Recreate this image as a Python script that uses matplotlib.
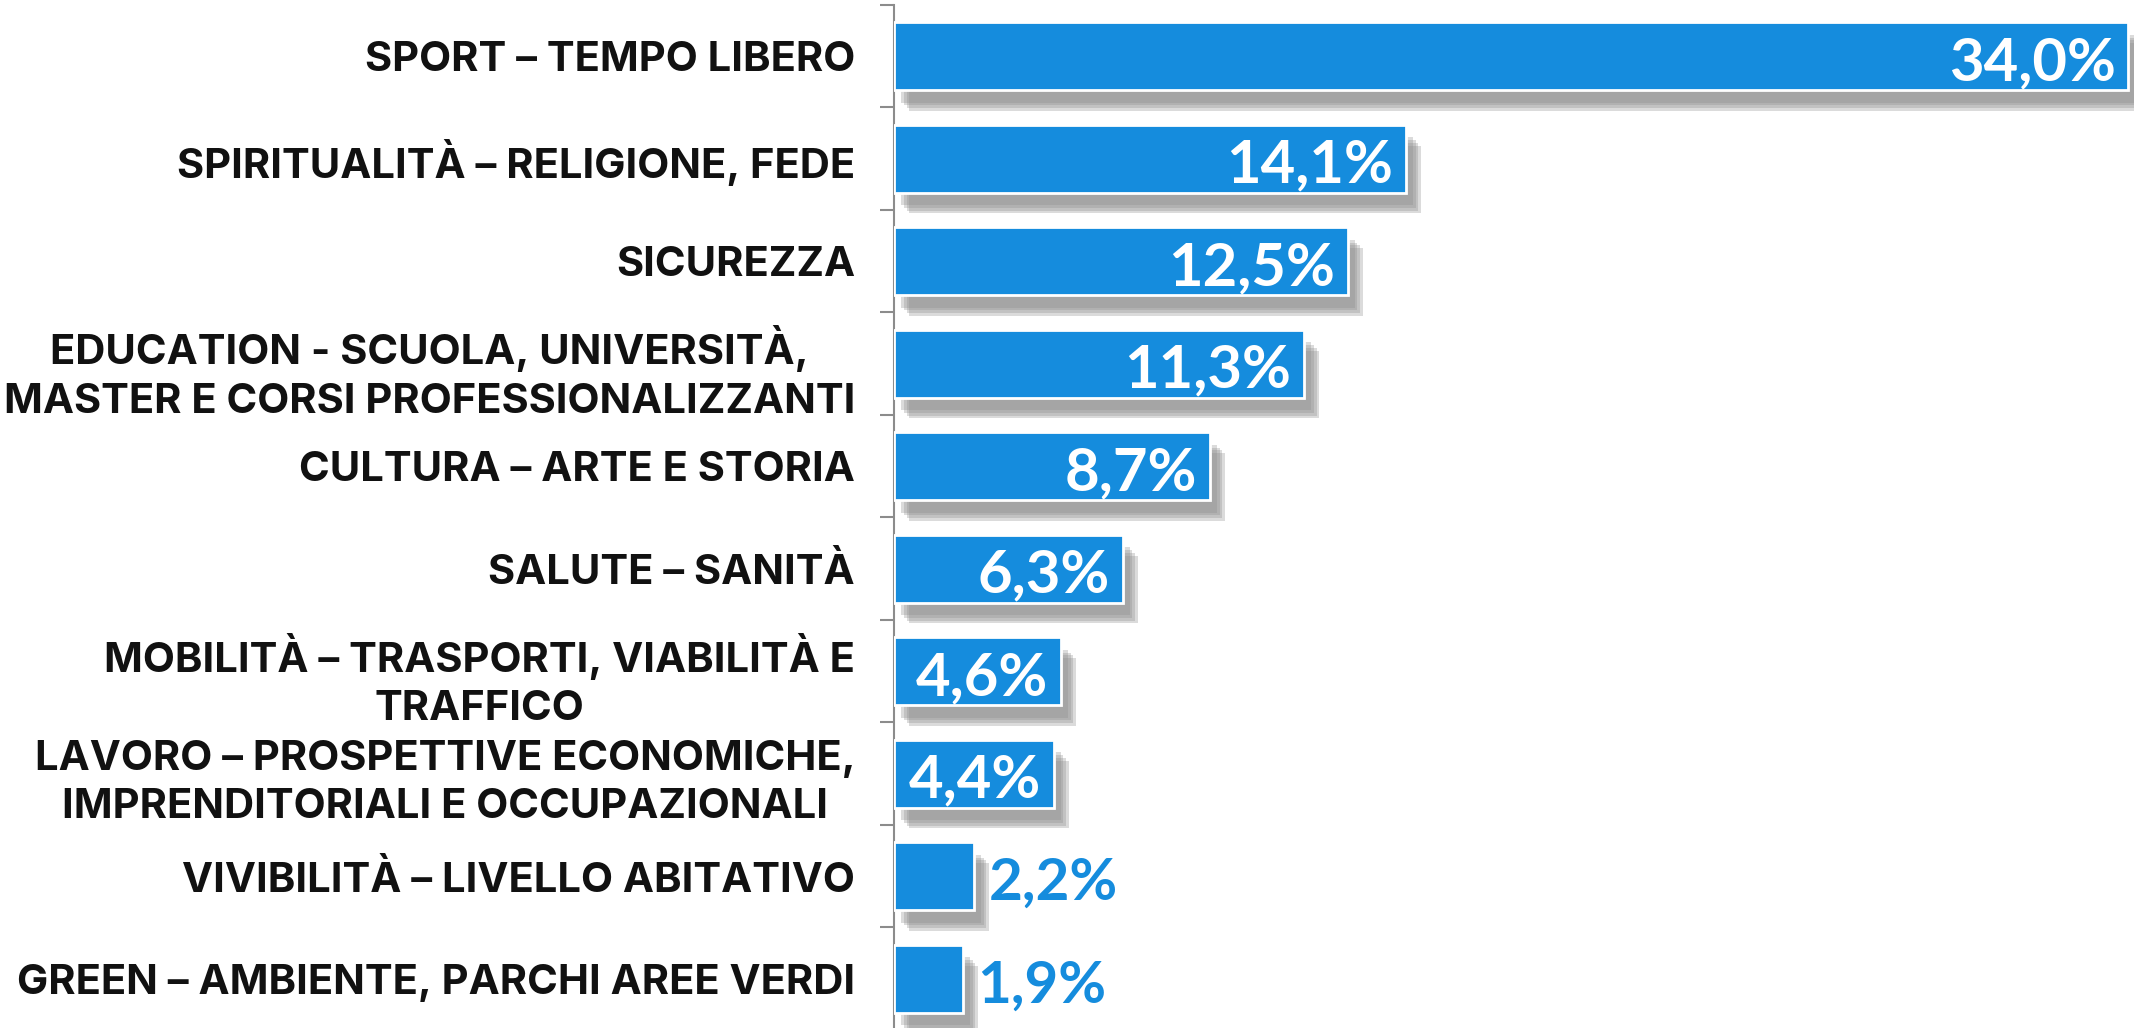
import matplotlib.pyplot as plt
import matplotlib.patheffects as pe

categories = [
    "SPORT – TEMPO LIBERO",
    "SPIRITUALITÀ – RELIGIONE, FEDE",
    "SICUREZZA",
    "EDUCATION - SCUOLA, UNIVERSITÀ,\nMASTER E CORSI PROFESSIONALIZZANTI",
    "CULTURA – ARTE E STORIA",
    "SALUTE – SANITÀ",
    "MOBILITÀ – TRASPORTI, VIABILITÀ E\nTRAFFICO",
    "LAVORO – PROSPETTIVE ECONOMICHE,\nIMPRENDITORIALI E OCCUPAZIONALI",
    "VIVIBILITÀ – LIVELLO ABITATIVO",
    "GREEN – AMBIENTE, PARCHI AREE VERDI",
]
values = [34.0, 14.1, 12.5, 11.3, 8.7, 6.3, 4.6, 4.4, 2.2, 1.9]
value_labels = ["34,0%", "14,1%", "12,5%", "11,3%", "8,7%", "6,3%", "4,6%", "4,4%", "2,2%", "1,9%"]

blue = "#158CDD"
plt.rcParams['font.family'] = ['Inter', 'DejaVu Sans']

fig = plt.figure(figsize=(21.34, 10.28), dpi=100)
ax = fig.add_axes([894 / 2134, -2 / 1028, 1 - 894 / 2134, 1025 / 1028])

pos = list(range(len(categories)))
# fake soft drop shadow with a few stacked offsets
shadow = [pe.SimplePatchShadow(offset=(5 + d, -9 - d), shadow_rgbFace="#8a8a8a", alpha=0.3) for d in (0, 2, 4, 6)]
bars = ax.barh(pos, values, height=0.66, color=blue, edgecolor="white", linewidth=2, zorder=3)
for b in bars:
    b.set_path_effects(shadow + [pe.Normal()])

for i, (v, lab) in enumerate(zip(values, value_labels)):
    if v > 4:
        ax.text(v - 0.35, i + 0.07, lab, ha="right", va="center", color="white",
                fontsize=43, fontweight="bold", family=["Lato", "DejaVu Sans"], zorder=4)
    else:
        ax.text(v + 0.4, i + 0.07, lab, ha="left", va="center", color=blue,
                fontsize=42, fontweight="bold", family=["Lato", "DejaVu Sans"], zorder=4)

ax.set_ylim(len(categories) - 0.5, -0.5)
ax.set_xlim(0, 34.16)
ax.set_yticks(pos)
ax.set_yticklabels(categories, fontsize=30, fontweight="bold", color="#111111")
for t in ax.get_yticklabels():
    t.set_multialignment("center")
    t.set_linespacing(1.35)
ax.set_yticks([p - 0.5 for p in pos] + [len(pos) - 0.5], minor=True)
ax.tick_params(axis="y", which="major", length=0, pad=28)
ax.tick_params(axis="y", which="minor", length=10, width=1.5, color="#8c8c8c")
ax.set_xticks([])
for s in ["top", "right", "bottom"]:
    ax.spines[s].set_visible(False)
ax.spines["left"].set_color("#8c8c8c")
ax.spines["left"].set_linewidth(1.5)

fig.savefig("out.png", dpi=100)
